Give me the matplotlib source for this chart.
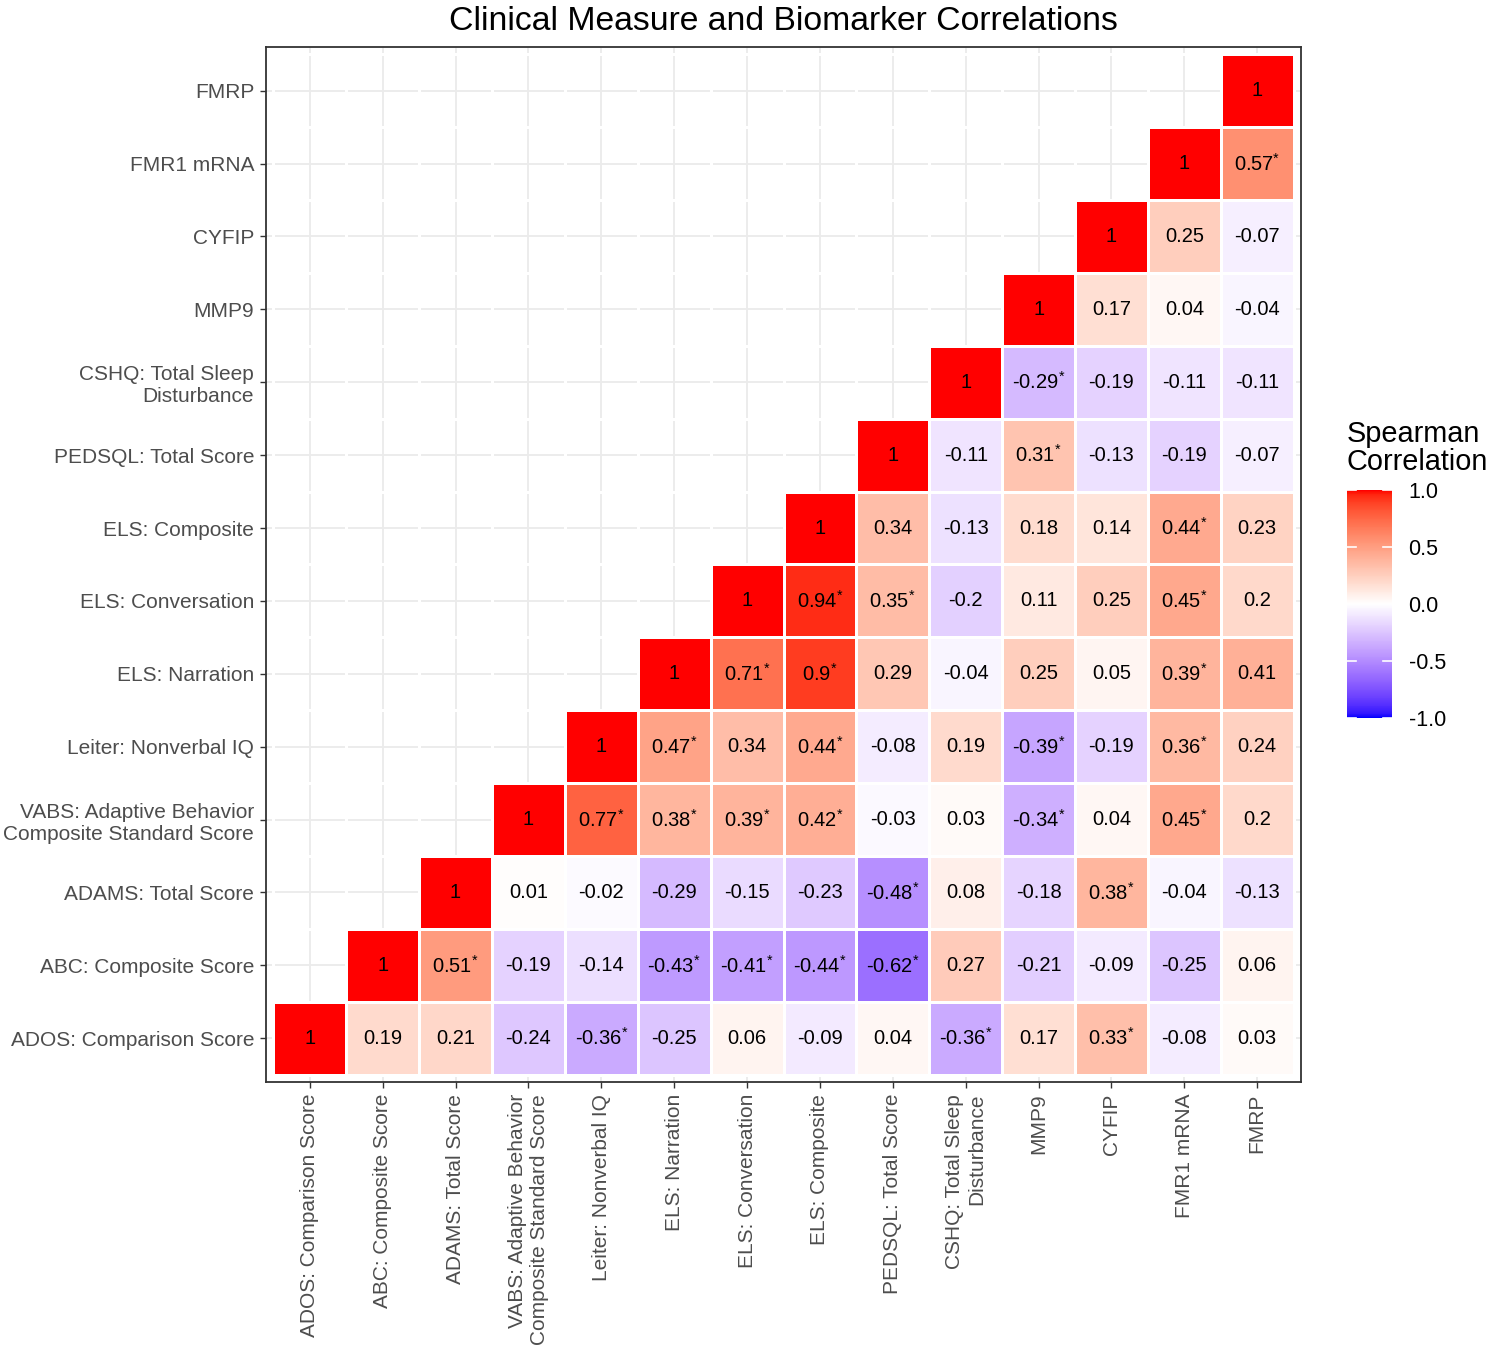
import numpy as np
import matplotlib
matplotlib.use("Agg")
import matplotlib.pyplot as plt
from matplotlib.colors import ListedColormap

plt.rcParams['font.family'] = ['Liberation Sans', 'DejaVu Sans']
plt.rcParams['mathtext.fontset'] = 'custom'
plt.rcParams['mathtext.rm'] = 'Liberation Sans'
plt.rcParams['mathtext.it'] = 'Liberation Sans'

# variable names, bottom-to-top on y and left-to-right on x
variables = [
    "ADOS: Comparison Score",
    "ABC: Composite Score",
    "ADAMS: Total Score",
    "VABS: Adaptive Behavior\nComposite Standard Score",
    "Leiter: Nonverbal IQ",
    "ELS: Narration",
    "ELS: Conversation",
    "ELS: Composite",
    "PEDSQL: Total Score",
    "CSHQ: Total Sleep\nDisturbance",
    "MMP9",
    "CYFIP",
    "FMR1 mRNA",
    "FMRP",
]

# row i holds correlations of variable i with variables i..13
rho = [
    [1, 0.19, 0.21, -0.24, -0.36, -0.25, 0.06, -0.09, 0.04, -0.36, 0.17, 0.33, -0.08, 0.03],
    [1, 0.51, -0.19, -0.14, -0.43, -0.41, -0.44, -0.62, 0.27, -0.21, -0.09, -0.25, 0.06],
    [1, 0.01, -0.02, -0.29, -0.15, -0.23, -0.48, 0.08, -0.18, 0.38, -0.04, -0.13],
    [1, 0.77, 0.38, 0.39, 0.42, -0.03, 0.03, -0.34, 0.04, 0.45, 0.2],
    [1, 0.47, 0.34, 0.44, -0.08, 0.19, -0.39, -0.19, 0.36, 0.24],
    [1, 0.71, 0.9, 0.29, -0.04, 0.25, 0.05, 0.39, 0.41],
    [1, 0.94, 0.35, -0.2, 0.11, 0.25, 0.45, 0.2],
    [1, 0.34, -0.13, 0.18, 0.14, 0.44, 0.23],
    [1, -0.11, 0.31, -0.13, -0.19, -0.07],
    [1, -0.29, -0.19, -0.11, -0.11],
    [1, 0.17, 0.04, -0.04],
    [1, 0.25, -0.07],
    [1, 0.57],
    [1],
]

# significance flags, same shape as rho
sig = [
    [0, 0, 0, 0, 1, 0, 0, 0, 0, 1, 0, 1, 0, 0],
    [0, 1, 0, 0, 1, 1, 1, 1, 0, 0, 0, 0, 0],
    [0, 0, 0, 0, 0, 0, 1, 0, 0, 1, 0, 0],
    [0, 1, 1, 1, 1, 0, 0, 1, 0, 1, 0],
    [0, 1, 0, 1, 0, 0, 1, 0, 1, 0],
    [0, 1, 1, 0, 0, 0, 0, 1, 0],
    [0, 1, 1, 0, 0, 0, 1, 0],
    [0, 0, 0, 0, 0, 1, 0],
    [0, 0, 1, 0, 0, 0],
    [0, 1, 0, 0, 0],
    [0, 0, 0, 0],
    [0, 0, 0],
    [0, 1],
    [0],
]


# blue-white-red gradient interpolated in Lab space (like ggplot's gradient2)
def srgb_to_lab(c):
    c = np.asarray(c, float)
    lin = np.where(c <= 0.04045, c / 12.92, ((c + 0.055) / 1.055) ** 2.4)
    M = np.array([[0.4124, 0.3576, 0.1805], [0.2126, 0.7152, 0.0722], [0.0193, 0.1192, 0.9505]])
    xyz = M @ lin / np.array([0.95047, 1.0, 1.08883])
    f = np.where(xyz > 0.008856, np.cbrt(xyz), 7.787 * xyz + 16 / 116)
    return np.array([116 * f[1] - 16, 500 * (f[0] - f[1]), 200 * (f[1] - f[2])])


def lab_to_srgb(lab):
    L, a, b = lab
    fy = (L + 16) / 116
    fx = fy + a / 500
    fz = fy - b / 200
    f = np.array([fx, fy, fz])
    xyz = np.where(f ** 3 > 0.008856, f ** 3, (f - 16 / 116) / 7.787) * np.array([0.95047, 1.0, 1.08883])
    Minv = np.linalg.inv(np.array([[0.4124, 0.3576, 0.1805], [0.2126, 0.7152, 0.0722], [0.0193, 0.1192, 0.9505]]))
    lin = np.clip(Minv @ xyz, 0, 1)
    return np.where(lin <= 0.0031308, lin * 12.92, 1.055 * lin ** (1 / 2.4) - 0.055)


lab_blue = srgb_to_lab([0, 0, 1])
lab_white = srgb_to_lab([1, 1, 1])
lab_red = srgb_to_lab([1, 0, 0])
cols = []
for t in np.linspace(-1, 1, 256):
    if t < 0:
        lab = lab_white + (lab_blue - lab_white) * (-t)
    else:
        lab = lab_white + (lab_red - lab_white) * t
    cols.append(np.clip(lab_to_srgb(lab), 0, 1))
cmap = ListedColormap(cols)

n = len(variables)
grid = np.full((n, n), np.nan)
for i, row in enumerate(rho):
    for k, v in enumerate(row):
        grid[i, i + k] = v

fig = plt.figure(figsize=(14.88, 13.54), dpi=100)
ax = fig.add_axes([0.1788, 0.2009, 0.6955, 0.7644])

mesh = ax.pcolormesh(np.arange(n + 1) - 0.5, np.arange(n + 1) - 0.5,
                     np.ma.masked_invalid(grid), cmap=cmap, vmin=-1, vmax=1,
                     edgecolors='white', linewidth=0.9)

for i, row in enumerate(rho):
    for k, v in enumerate(row):
        label = f"{v:g}"
        if sig[i][k]:
            label += r"$^{*}$"
        ax.text(i + k, i, label, ha='center', va='center', fontsize=14.5, color='black')

ax.set_xlim(-0.6, n - 0.4)
ax.set_ylim(-0.6, n - 0.4)
ax.set_axisbelow(True)
ax.grid(color='#EBEBEB', linewidth=1.3)

ax.set_xticks(range(n))
ax.set_xticklabels(variables, rotation=90, ha='center', va='top', multialignment='right')
ax.set_yticks(range(n))
ax.set_yticklabels(variables, ha='right', multialignment='right')
ax.tick_params(length=4, width=1, color='#333333', labelcolor='#4D4D4D', labelsize=15, pad=4.5)
for sp in ax.spines.values():
    sp.set_color('#333333')
    sp.set_linewidth(1.3)

ax.set_title("Clinical Measure and Biomarker Correlations", fontsize=24.3, pad=12)

cax = fig.add_axes([0.9052, 0.4697, 0.0302, 0.1684])
cb = fig.colorbar(mesh, cax=cax, ticks=[-1, -0.5, 0, 0.5, 1])
cb.outline.set_visible(False)
cb.set_ticklabels(["-1.0", "-0.5", "0.0", "0.5", "1.0"])
cax.tick_params(length=0, pad=12, labelsize=15.5)
for t in [-1, -0.5, 0, 0.5, 1]:
    cax.plot([0, 0.2], [t, t], color='white', linewidth=1.2)
    cax.plot([0.8, 1], [t, t], color='white', linewidth=1.2)

fig.text(0.9052, 0.6485, "Spearman\nCorrelation", fontsize=20.8, ha='left', va='bottom',
         linespacing=1.0)

fig.savefig("out.png", dpi=100)
